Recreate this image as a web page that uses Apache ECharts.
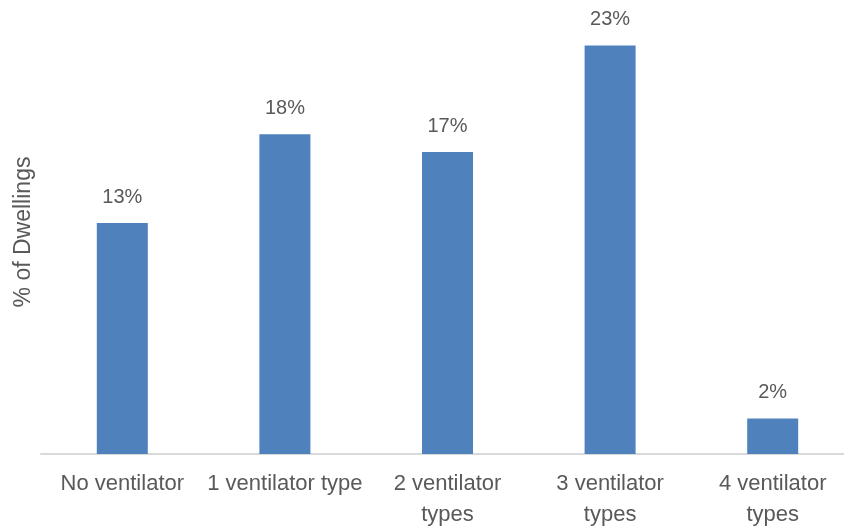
<!DOCTYPE html>
<html>
<head>
<meta charset="utf-8">
<style>
  html, body { margin: 0; padding: 0; background: #ffffff; }
  #chart { width: 844px; height: 528px; }
</style>
<script src="https://cdn.jsdelivr.net/npm/echarts@6/dist/echarts.min.js"></script>
</head>
<body>
<div id="chart"></div>
<script>
// Share of dwellings by number of ventilator types present
const categories = ['No ventilator', '1 ventilator type', '2 ventilator\ntypes', '3 ventilator\ntypes', '4 ventilator\ntypes'];
const shares = [13, 18, 17, 23, 2];
const yAxisTitle = '% of Dwellings';

const chart = echarts.init(document.getElementById('chart'));
const textColor = '#595959';
const fontFamily = '"Liberation Sans", Arial, sans-serif';

chart.setOption({
  animation: false,
  backgroundColor: '#ffffff',
  grid: { left: 41, right: -10, top: 10, bottom: 74, containLabel: false, outerBoundsMode: 'none' },
  xAxis: {
    type: 'category',
    data: categories,
    axisLine: { show: true, lineStyle: { color: '#d9d9d9', width: 2 } },
    axisTick: { show: false },
    axisLabel: {
      color: textColor,
      fontFamily: fontFamily,
      fontSize: 22,
      lineHeight: 31,
      margin: 14,
      interval: 0
    }
  },
  yAxis: {
    type: 'value',
    min: 0,
    max: 25,
    name: yAxisTitle,
    nameLocation: 'middle',
    nameGap: 6,
    nameTextStyle: { color: textColor, fontFamily: fontFamily, fontSize: 23 },
    axisLine: { show: false },
    axisTick: { show: false },
    axisLabel: { show: false },
    splitLine: { show: false }
  },
  series: [{
    type: 'bar',
    data: shares,
    barWidth: 51,
    itemStyle: { color: '#4f81bd' },
    label: {
      show: true,
      position: 'top',
      distance: 16,
      formatter: p => p.value + '%',
      color: textColor,
      fontFamily: fontFamily,
      fontSize: 20
    }
  }]
});
</script>
</body>
</html>
